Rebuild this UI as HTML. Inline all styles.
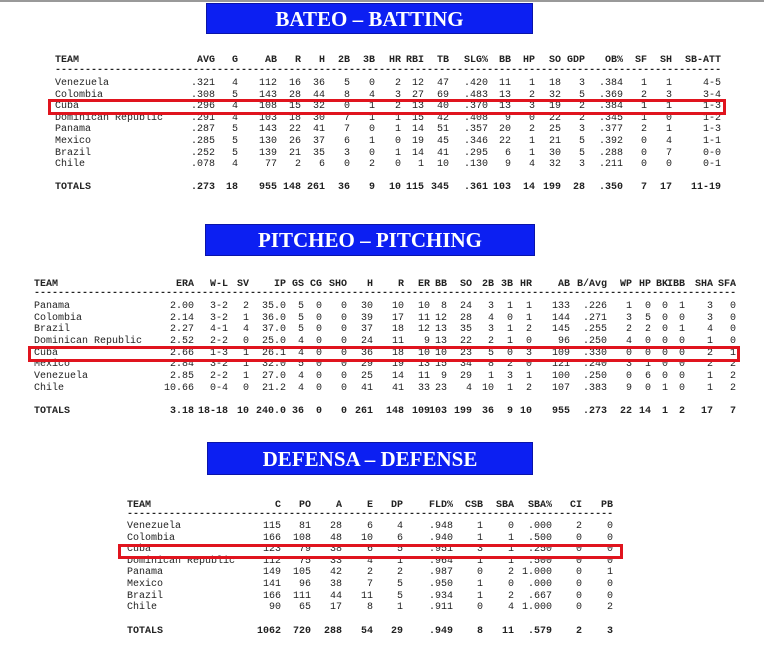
<!DOCTYPE html>
<html><head><meta charset="utf-8">
<style>
html,body{margin:0;padding:0;background:#fff;}
body{width:764px;height:650px;position:relative;overflow:hidden;font-family:"Liberation Mono",monospace;font-size:10px;color:#222;}
.topline{position:absolute;left:0;top:0;width:764px;height:2px;background:#999;}
.banner{position:absolute;background:#0c1ff2;border:1px solid #0a14a8;color:#fff;font-family:"Liberation Serif",serif;font-weight:bold;font-size:21px;text-align:center;box-sizing:border-box;}
.c{position:absolute;white-space:pre;line-height:11px;}
.r{text-align:right;}
.b{font-weight:bold;}
.dash{position:absolute;overflow:hidden;white-space:pre;line-height:11px;font-weight:bold;}
.box{position:absolute;border:3px solid #e0141e;box-sizing:border-box;}
</style></head>
<body>
<div class="topline"></div>
<div class="banner" style="left:206px;top:3px;width:327px;height:31px;line-height:30px;">BATEO – BATTING</div>
<div class="banner" style="left:205px;top:224px;width:330px;height:32px;line-height:31px;">PITCHEO – PITCHING</div>
<div class="banner" style="left:207px;top:442px;width:326px;height:33px;line-height:32px;">DEFENSA – DEFENSE</div>

<div id="bat"></div>
<div id="pit"></div>
<div id="def"></div>

<div class="box" style="left:48px;top:99px;width:678px;height:16px;"></div>
<div class="box" style="left:28px;top:346px;width:712px;height:16px;"></div>
<div class="box" style="left:118px;top:544px;width:505px;height:15px;"></div>

<script>
// ---- Batting data ----
const batHeaders = ["AVG","G","AB","R","H","2B","3B","HR","RBI","TB","SLG%","BB","HP","SO","GDP","OB%","SF","SH","SB-ATT"];
const batTeams = ["Venezuela","Colombia","Cuba","Dominican Republic","Panama","Mexico","Brazil","Chile"];
const batRows = [
["Venezuela",".321","4","112","16","36","5","0","2","12","47",".420","11","1","18","3",".384","1","1","4-5"],
["Colombia",".308","5","143","28","44","8","4","3","27","69",".483","13","2","32","5",".369","2","3","3-4"],
["Cuba",".296","4","108","15","32","0","1","2","13","40",".370","13","3","19","2",".384","1","1","1-3"],
["Dominican Republic",".291","4","103","18","30","7","1","1","15","42",".408","9","0","22","2",".345","1","0","1-2"],
["Panama",".287","5","143","22","41","7","0","1","14","51",".357","20","2","25","3",".377","2","1","1-3"],
["Mexico",".285","5","130","26","37","6","1","0","19","45",".346","22","1","21","5",".392","0","4","1-1"],
["Brazil",".252","5","139","21","35","3","0","1","14","41",".295","6","1","30","5",".288","0","7","0-0"],
["Chile",".078","4","77","2","6","0","2","0","1","10",".130","9","4","32","3",".211","0","0","0-1"]];
const batTotals = ["TOTALS",".273","18","955","148","261","36","9","10","115","345",".361","103","14","199","28",".350","7","17","11-19"];

// ---- Pitching data ----
const pitHeaders = ["ERA","W-L","SV","IP","GS","CG","SHO","H","R","ER","BB","SO","2B","3B","HR","AB","B/Avg","WP","HP","BK","IBB","SHA","SFA"];
const pitRows = [
["Panama","2.00","3-2","2","35.0","5","0","0","30","10","10","8","24","3","1","1","133",".226","1","0","0","1","3","0"],
["Colombia","2.14","3-2","1","36.0","5","0","0","39","17","11","12","28","4","0","1","144",".271","3","5","0","0","3","0"],
["Brazil","2.27","4-1","4","37.0","5","0","0","37","18","12","13","35","3","1","2","145",".255","2","2","0","1","4","0"],
["Dominican Republic","2.52","2-2","0","25.0","4","0","0","24","11","9","13","22","2","1","0","96",".250","4","0","0","0","1","0"],
["Cuba","2.66","1-3","1","26.1","4","0","0","36","18","10","10","23","5","0","3","109",".330","0","0","0","0","2","1"],
["Mexico","2.84","3-2","1","32.0","5","0","0","29","19","13","15","34","8","2","0","121",".240","3","1","0","0","2","2"],
["Venezuela","2.85","2-2","1","27.0","4","0","0","25","14","11","9","29","1","3","1","100",".250","0","6","0","0","1","2"],
["Chile","10.66","0-4","0","21.2","4","0","0","41","41","33","23","4","10","1","2","107",".383","9","0","1","0","1","2"]];
const pitTotals = ["TOTALS","3.18","18-18","10","240.0","36","0","0","261","148","109","103","199","36","9","10","955",".273","22","14","1","2","17","7"];

// ---- Defense data ----
const defHeaders = ["C","PO","A","E","DP","FLD%","CSB","SBA","SBA%","CI","PB"];
const defRows = [
["Venezuela","115","81","28","6","4",".948","1","0",".000","2","0"],
["Colombia","166","108","48","10","6",".940","1","1",".500","0","0"],
["Cuba","123","79","38","6","5",".951","3","1",".250","0","0"],
["Dominican Republic","112","75","33","4","1",".964","1","1",".500","0","0"],
["Panama","149","105","42","2","2",".987","0","2","1.000","0","1"],
["Mexico","141","96","38","7","5",".950","1","0",".000","0","0"],
["Brazil","166","111","44","11","5",".934","1","2",".667","0","0"],
["Chile","90","65","17","8","1",".911","0","4","1.000","0","2"]];
const defTotals = ["TOTALS","1062","720","288","54","29",".949","8","11",".579","2","3"];

// ---- layout (not data) ----
const batLayout = {left:55, ends:[215,238,277,301,325,350,375,401,424,449,488,511,535,561,585,623,647,672,721], headY:55, dashY:65, rowY:78, step:11.6, totY:182};
const pitLayout = {left:34, ends:[194,228,249,286,304,322,347,373,404,430,447,472,494,513,532,570,607,632,651,668,685,713,736], headY:279, dashY:288, rowY:301, step:11.65, totY:406};
const defLayout = {left:127, ends:[281,311,342,373,403,453,483,514,552,582,613], headY:500, dashY:509, rowY:521, step:11.6, totY:626};

function cell(parent, txt, x, y, right, bold, name){
  const d = document.createElement('div');
  
  
  d.className = 'c' + (bold ? ' b' : '');
  d.textContent = txt;
  if (right) { d.style.right = (764 - x) + 'px'; d.style.textAlign = 'right'; }
  else d.style.left = x + 'px';
  d.style.top = y + 'px';
  parent.appendChild(d);
}
function build(id, headers, rows, totals, L){
  const p = document.getElementById(id);
  cell(p, 'TEAM', L.left, L.headY, false, true, 'header-team');
  headers.forEach((h,i)=>cell(p, h, L.ends[i], L.headY, true, true, 'header-' + h.toLowerCase().replace(/[^a-z0-9]/g,'')));
  const dd = document.createElement('div');
  
  
  dd.className = 'dash';
  dd.style.left = L.left + 'px';
  dd.style.top = L.dashY + 'px';
  dd.style.width = (L.ends[L.ends.length-1] - L.left) + 'px';
  dd.textContent = '-'.repeat(200);
  p.appendChild(dd);
  rows.forEach((r,ri)=>{
    const y = L.rowY + ri * L.step;
    const slug = r[0].toLowerCase().replace(/\s+/g,'-');
    cell(p, r[0], L.left, y, false, false, 'team-' + slug);
    for (let i=1;i<r.length;i++) cell(p, r[i], L.ends[i-1], y, true, false, slug + '-value');
  });
  cell(p, totals[0], L.left, L.totY, false, true, 'totals-label');
  for (let i=1;i<totals.length;i++) cell(p, totals[i], L.ends[i-1], L.totY, true, true, 'totals-value');
}
build('bat', batHeaders, batRows, batTotals, batLayout);
build('pit', pitHeaders, pitRows, pitTotals, pitLayout);
build('def', defHeaders, defRows, defTotals, defLayout);
</script>
</body></html>
